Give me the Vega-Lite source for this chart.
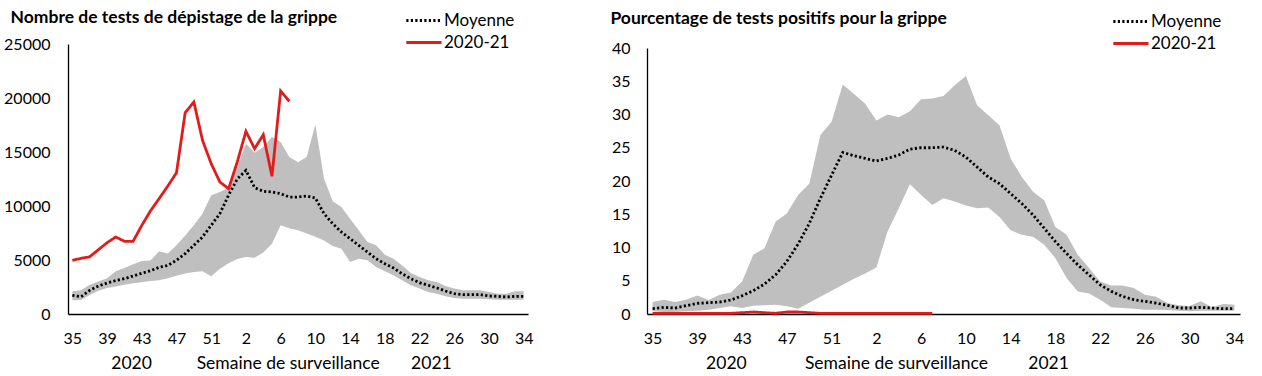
{
  "$schema": "https://vega.github.io/schema/vega-lite/v6.json",
  "background": "white",
  "padding": {"left": 3, "top": 8, "right": 0, "bottom": 0},
  "config": {
    "font": "Lato",
    "view": {"stroke": null},
    "axis": {"labelFont": "Lato", "labelFontSize": 16, "labelColor": "black", "ticks": false, "grid": false, "domainColor": "black", "domainWidth": 1.3, "titleFont": "Lato", "titleFontWeight": "normal", "titleFontSize": 17.5, "titleColor": "black", "labelFlush": false, "labelOverlap": false},
    "legend": {"orient": "none", "padding": 0, "offset": 0, "labelFont": "Lato", "labelFontSize": 17, "labelColor": "black", "symbolType": "M-3.4,0H1", "symbolSize": 256, "symbolStrokeWidth": 2.8, "rowPadding": 4, "labelOffset": 1},
    "title": {"font": "Lato", "fontSize": 17.5, "fontWeight": "bold", "color": "black", "anchor": "start", "frame": "bounds"}
  },
  "datasets": {
    "tests": [
      {"semaine": "35", "min": 1270, "max": 2100, "moyenne": 1730, "saison": 4970},
      {"semaine": "36", "min": 1300, "max": 2200, "moyenne": 1600, "saison": 5150},
      {"semaine": "37", "min": 1750, "max": 2700, "moyenne": 2190, "saison": 5300},
      {"semaine": "38", "min": 2150, "max": 3000, "moyenne": 2590, "saison": 5950},
      {"semaine": "39", "min": 2400, "max": 3300, "moyenne": 2870, "saison": 6600},
      {"semaine": "40", "min": 2550, "max": 3950, "moyenne": 3090, "saison": 7130},
      {"semaine": "41", "min": 2700, "max": 4260, "moyenne": 3270, "saison": 6730},
      {"semaine": "42", "min": 2850, "max": 4600, "moyenne": 3520, "saison": 6730},
      {"semaine": "43", "min": 2950, "max": 4900, "moyenne": 3770, "saison": 8200},
      {"semaine": "44", "min": 3050, "max": 4950, "moyenne": 4010, "saison": 9550},
      {"semaine": "45", "min": 3120, "max": 5800, "moyenne": 4320, "saison": 10680},
      {"semaine": "46", "min": 3300, "max": 5600, "moyenne": 4500, "saison": 11850},
      {"semaine": "47", "min": 3550, "max": 6360, "moyenne": 4970, "saison": 13080},
      {"semaine": "48", "min": 3750, "max": 7280, "moyenne": 5590, "saison": 18640},
      {"semaine": "49", "min": 3900, "max": 8210, "moyenne": 6360, "saison": 19630},
      {"semaine": "50", "min": 3950, "max": 9290, "moyenne": 7130, "saison": 16080},
      {"semaine": "51", "min": 3490, "max": 10990, "moyenne": 8210, "saison": 13920},
      {"semaine": "52", "min": 4200, "max": 11300, "moyenne": 9300, "saison": 12220},
      {"semaine": "53", "min": 4700, "max": 11700, "moyenne": 11000, "saison": 11600},
      {"semaine": "1", "min": 5100, "max": 13600, "moyenne": 12500, "saison": 14070},
      {"semaine": "2", "min": 5280, "max": 15770, "moyenne": 13300, "saison": 16910},
      {"semaine": "3", "min": 5200, "max": 14940, "moyenne": 11700, "saison": 15310},
      {"semaine": "4", "min": 5700, "max": 15460, "moyenne": 11360, "saison": 16600},
      {"semaine": "5", "min": 6500, "max": 16390, "moyenne": 11300, "saison": 12750},
      {"semaine": "6", "min": 8210, "max": 15930, "moyenne": 11140, "saison": 20650},
      {"semaine": "7", "min": 7950, "max": 14540, "moyenne": 10830, "saison": 19690},
      {"semaine": "8", "min": 7750, "max": 14050, "moyenne": 10830, "saison": null},
      {"semaine": "9", "min": 7450, "max": 14540, "moyenne": 10930, "saison": null},
      {"semaine": "10", "min": 7150, "max": 17550, "moyenne": 10740, "saison": null},
      {"semaine": "11", "min": 6800, "max": 12530, "moyenne": 9290, "saison": null},
      {"semaine": "12", "min": 6300, "max": 10430, "moyenne": 8360, "saison": null},
      {"semaine": "13", "min": 6050, "max": 9910, "moyenne": 7590, "saison": null},
      {"semaine": "14", "min": 4810, "max": 8820, "moyenne": 6970, "saison": null},
      {"semaine": "15", "min": 5120, "max": 7750, "moyenne": 6360, "saison": null},
      {"semaine": "16", "min": 4970, "max": 6670, "moyenne": 5740, "saison": null},
      {"semaine": "17", "min": 4350, "max": 6360, "moyenne": 5120, "saison": null},
      {"semaine": "18", "min": 3950, "max": 5490, "moyenne": 4660, "saison": null},
      {"semaine": "19", "min": 3580, "max": 5120, "moyenne": 4260, "saison": null},
      {"semaine": "20", "min": 3120, "max": 4500, "moyenne": 3730, "saison": null},
      {"semaine": "21", "min": 2660, "max": 3800, "moyenne": 3270, "saison": null},
      {"semaine": "22", "min": 2350, "max": 3430, "moyenne": 2900, "saison": null},
      {"semaine": "23", "min": 2040, "max": 3120, "moyenne": 2660, "saison": null},
      {"semaine": "24", "min": 1880, "max": 2960, "moyenne": 2410, "saison": null},
      {"semaine": "25", "min": 1640, "max": 2590, "moyenne": 2130, "saison": null},
      {"semaine": "26", "min": 1480, "max": 2350, "moyenne": 1880, "saison": null},
      {"semaine": "27", "min": 1420, "max": 2190, "moyenne": 1790, "saison": null},
      {"semaine": "28", "min": 1420, "max": 2190, "moyenne": 1790, "saison": null},
      {"semaine": "29", "min": 1420, "max": 2190, "moyenne": 1790, "saison": null},
      {"semaine": "30", "min": 1360, "max": 2040, "moyenne": 1670, "saison": null},
      {"semaine": "31", "min": 1330, "max": 1880, "moyenne": 1640, "saison": null},
      {"semaine": "32", "min": 1330, "max": 1880, "moyenne": 1570, "saison": null},
      {"semaine": "33", "min": 1330, "max": 2100, "moyenne": 1640, "saison": null},
      {"semaine": "34", "min": 1330, "max": 2100, "moyenne": 1640, "saison": null}
    ],
    "positifs": [
      {"semaine": "35", "min": 0.4, "max": 1.8, "moyenne": 0.8, "saison": 0.1},
      {"semaine": "36", "min": 0.3, "max": 2.15, "moyenne": 1.0, "saison": 0.1},
      {"semaine": "37", "min": 0.3, "max": 1.8, "moyenne": 0.9, "saison": 0.1},
      {"semaine": "38", "min": 0.4, "max": 2.15, "moyenne": 1.25, "saison": 0.1},
      {"semaine": "39", "min": 0.5, "max": 2.8, "moyenne": 1.6, "saison": 0.1},
      {"semaine": "40", "min": 0.65, "max": 2.1, "moyenne": 1.7, "saison": 0.1},
      {"semaine": "41", "min": 0.9, "max": 2.9, "moyenne": 1.8, "saison": 0.1},
      {"semaine": "42", "min": 1.15, "max": 3.25, "moyenne": 2.1, "saison": 0.1},
      {"semaine": "43", "min": 0.9, "max": 4.9, "moyenne": 2.75, "saison": 0.2},
      {"semaine": "44", "min": 1.25, "max": 8.9, "moyenne": 3.5, "saison": 0.3},
      {"semaine": "45", "min": 1.3, "max": 9.9, "moyenne": 4.5, "saison": 0.2},
      {"semaine": "46", "min": 1.4, "max": 13.9, "moyenne": 5.9, "saison": 0.1},
      {"semaine": "47", "min": 1.15, "max": 15.1, "moyenne": 7.9, "saison": 0.3},
      {"semaine": "48", "min": 0.8, "max": 17.9, "moyenne": 10.5, "saison": 0.3},
      {"semaine": "49", "min": 1.7, "max": 19.6, "moyenne": 13.6, "saison": 0.2},
      {"semaine": "50", "min": 2.6, "max": 26.9, "moyenne": 17.4, "saison": 0.1},
      {"semaine": "51", "min": 3.5, "max": 28.9, "moyenne": 20.9, "saison": 0.1},
      {"semaine": "52", "min": 4.4, "max": 34.5, "moyenne": 24.3, "saison": 0.1},
      {"semaine": "53", "min": 5.3, "max": 33.1, "moyenne": 23.8, "saison": 0.1},
      {"semaine": "1", "min": 6.1, "max": 31.6, "moyenne": 23.4, "saison": 0.1},
      {"semaine": "2", "min": 7.0, "max": 29.1, "moyenne": 23.0, "saison": 0.1},
      {"semaine": "3", "min": 12.4, "max": 30.0, "moyenne": 23.4, "saison": 0.1},
      {"semaine": "4", "min": 15.9, "max": 29.6, "moyenne": 23.9, "saison": 0.1},
      {"semaine": "5", "min": 19.5, "max": 30.5, "moyenne": 24.8, "saison": 0.1},
      {"semaine": "6", "min": 17.9, "max": 32.3, "moyenne": 25.0, "saison": 0.1},
      {"semaine": "7", "min": 16.4, "max": 32.4, "moyenne": 25.0, "saison": 0.1},
      {"semaine": "8", "min": 17.4, "max": 32.8, "moyenne": 25.1, "saison": null},
      {"semaine": "9", "min": 16.9, "max": 34.4, "moyenne": 24.6, "saison": null},
      {"semaine": "10", "min": 16.3, "max": 35.8, "moyenne": 23.6, "saison": null},
      {"semaine": "11", "min": 15.9, "max": 31.4, "moyenne": 22.1, "saison": null},
      {"semaine": "12", "min": 16.0, "max": 29.9, "moyenne": 20.6, "saison": null},
      {"semaine": "13", "min": 14.6, "max": 28.4, "moyenne": 19.6, "saison": null},
      {"semaine": "14", "min": 12.6, "max": 23.4, "moyenne": 18.1, "saison": null},
      {"semaine": "15", "min": 11.9, "max": 20.6, "moyenne": 16.6, "saison": null},
      {"semaine": "16", "min": 11.6, "max": 18.4, "moyenne": 14.9, "saison": null},
      {"semaine": "17", "min": 10.4, "max": 17.1, "moyenne": 12.9, "saison": null},
      {"semaine": "18", "min": 8.4, "max": 13.1, "moyenne": 10.9, "saison": null},
      {"semaine": "19", "min": 5.4, "max": 11.9, "moyenne": 9.1, "saison": null},
      {"semaine": "20", "min": 3.4, "max": 8.9, "moyenne": 7.4, "saison": null},
      {"semaine": "21", "min": 3.1, "max": 6.9, "moyenne": 5.9, "saison": null},
      {"semaine": "22", "min": 2.15, "max": 4.9, "moyenne": 4.4, "saison": null},
      {"semaine": "23", "min": 1.0, "max": 4.3, "moyenne": 3.4, "saison": null},
      {"semaine": "24", "min": 0.9, "max": 4.3, "moyenne": 2.65, "saison": null},
      {"semaine": "25", "min": 0.8, "max": 3.9, "moyenne": 2.15, "saison": null},
      {"semaine": "26", "min": 0.65, "max": 2.9, "moyenne": 1.9, "saison": null},
      {"semaine": "27", "min": 0.65, "max": 2.6, "moyenne": 1.65, "saison": null},
      {"semaine": "28", "min": 0.6, "max": 1.65, "moyenne": 1.3, "saison": null},
      {"semaine": "29", "min": 0.5, "max": 1.3, "moyenne": 0.9, "saison": null},
      {"semaine": "30", "min": 0.4, "max": 1.2, "moyenne": 0.9, "saison": null},
      {"semaine": "31", "min": 0.5, "max": 1.9, "moyenne": 1.0, "saison": null},
      {"semaine": "32", "min": 0.5, "max": 1.0, "moyenne": 0.9, "saison": null},
      {"semaine": "33", "min": 0.5, "max": 1.5, "moyenne": 0.8, "saison": null},
      {"semaine": "34", "min": 0.5, "max": 1.4, "moyenne": 0.8, "saison": null}
    ]
  },
  "spacing": 119,
  "bounds": "flush",
  "resolve": {"scale": {"x": "independent", "y": "independent", "color": "independent", "strokeDash": "independent"}, "legend": {"color": "independent", "strokeDash": "independent"}},
  "hconcat": [
    {
      "width": 460,
      "height": 270,
      "title": {"text": "Nombre de tests de dépistage de la grippe", "dx": 7, "dy": 19},
      "data": {"name": "tests"},
      "layer": [
        {
          "mark": {"type": "area", "color": "#bfbfbf", "opacity": 1},
          "encoding": {
            "x": {"field": "semaine", "type": "ordinal", "scale": {"type": "point", "padding": 0.5, "domain": ["35","36","37","38","39","40","41","42","43","44","45","46","47","48","49","50","51","52","53","1","2","3","4","5","6","7","8","9","10","11","12","13","14","15","16","17","18","19","20","21","22","23","24","25","26","27","28","29","30","31","32","33","34"]}, "axis": {"values": ["35","39","43","47","51","2","6","10","14","18","22","26","30","34"], "labelAngle": 0, "labelPadding": 16, "labelOverlap": false, "titlePadding": 8, "titleX": 213, "title": "2020\u00a0\u00a0\u00a0\u00a0\u00a0\u00a0\u00a0\u00a0\u00a0\u00a0Semaine de surveillance\u00a0\u00a0\u00a0\u00a0\u00a0\u00a0\u00a02021"}},
            "y": {"field": "max", "type": "quantitative", "scale": {"domain": [0, 25000], "nice": false}, "axis": {"values": [0, 5000, 10000, 15000, 20000, 25000], "tickCount": 6, "format": "d", "labelPadding": 18, "labelOverlap": false, "title": null}},
            "y2": {"field": "min"}
          }
        },
        {
          "transform": [{"fold": ["moyenne", "saison"], "as": ["serie", "valeur"]}],
          "mark": {"type": "line", "strokeWidth": 2.8},
          "encoding": {
            "x": {"field": "semaine", "type": "ordinal"},
            "y": {"field": "valeur", "type": "quantitative", "axis": {"values": [0, 5000, 10000, 15000, 20000, 25000], "tickCount": 6, "format": "d", "labelPadding": 18, "labelOverlap": false, "title": null}},
            "color": {"field": "serie", "type": "nominal", "scale": {"domain": ["moyenne", "saison"], "range": ["#000000", "#e31b1b"]}, "legend": {"title": null, "legendX": 356, "legendY": -33, "labelExpr": "datum.value == 'moyenne' ? 'Moyenne' : '2020-21'"}},
            "strokeDash": {"field": "serie", "type": "nominal", "scale": {"domain": ["moyenne", "saison"], "range": [[2.2, 2.3], [1, 0]]}, "legend": {"title": null, "legendX": 356, "legendY": -33, "labelExpr": "datum.value == 'moyenne' ? 'Moyenne' : '2020-21'"}}
          }
        }
      ]
    },
    {
      "width": 593,
      "height": 270,
      "title": {"text": "Pourcentage de tests positifs pour la grippe", "dx": -1, "dy": 19},
      "data": {"name": "positifs"},
      "layer": [
        {
          "mark": {"type": "area", "color": "#bfbfbf", "opacity": 1},
          "encoding": {
            "x": {"field": "semaine", "type": "ordinal", "scale": {"type": "point", "padding": 0.5, "domain": ["35","36","37","38","39","40","41","42","43","44","45","46","47","48","49","50","51","52","53","1","2","3","4","5","6","7","8","9","10","11","12","13","14","15","16","17","18","19","20","21","22","23","24","25","26","27","28","29","30","31","32","33","34"]}, "axis": {"values": ["35","39","43","47","51","2","6","10","14","18","22","26","30","34"], "labelAngle": 0, "labelPadding": 16, "labelOverlap": false, "titlePadding": 8, "titleX": 240, "title": "2020\u00a0\u00a0\u00a0\u00a0\u00a0\u00a0\u00a0\u00a0\u00a0\u00a0\u00a0\u00a0\u00a0Semaine de surveillance\u00a0\u00a0\u00a0\u00a0\u00a0\u00a0\u00a0\u00a0\u00a02021"}},
            "y": {"field": "max", "type": "quantitative", "scale": {"domain": [0, 40], "nice": false, "range": [270, 4]}, "axis": {"values": [0, 5, 10, 15, 20, 25, 30, 35, 40], "tickCount": 9, "labelPadding": 17, "labelOverlap": false, "title": null}},
            "y2": {"field": "min"}
          }
        },
        {
          "transform": [{"fold": ["moyenne", "saison"], "as": ["serie", "valeur"]}],
          "mark": {"type": "line", "strokeWidth": 2.8},
          "encoding": {
            "x": {"field": "semaine", "type": "ordinal"},
            "y": {"field": "valeur", "type": "quantitative", "axis": {"values": [0, 5, 10, 15, 20, 25, 30, 35, 40], "tickCount": 9, "labelPadding": 17, "labelOverlap": false, "title": null}},
            "color": {"field": "serie", "type": "nominal", "scale": {"domain": ["moyenne", "saison"], "range": ["#000000", "#e31b1b"]}, "legend": {"title": null, "legendX": 484, "legendY": -32, "labelExpr": "datum.value == 'moyenne' ? 'Moyenne' : '2020-21'"}},
            "strokeDash": {"field": "serie", "type": "nominal", "scale": {"domain": ["moyenne", "saison"], "range": [[2.2, 2.3], [1, 0]]}, "legend": {"title": null, "legendX": 484, "legendY": -32, "labelExpr": "datum.value == 'moyenne' ? 'Moyenne' : '2020-21'"}}
          }
        }
      ]
    }
  ]
}
